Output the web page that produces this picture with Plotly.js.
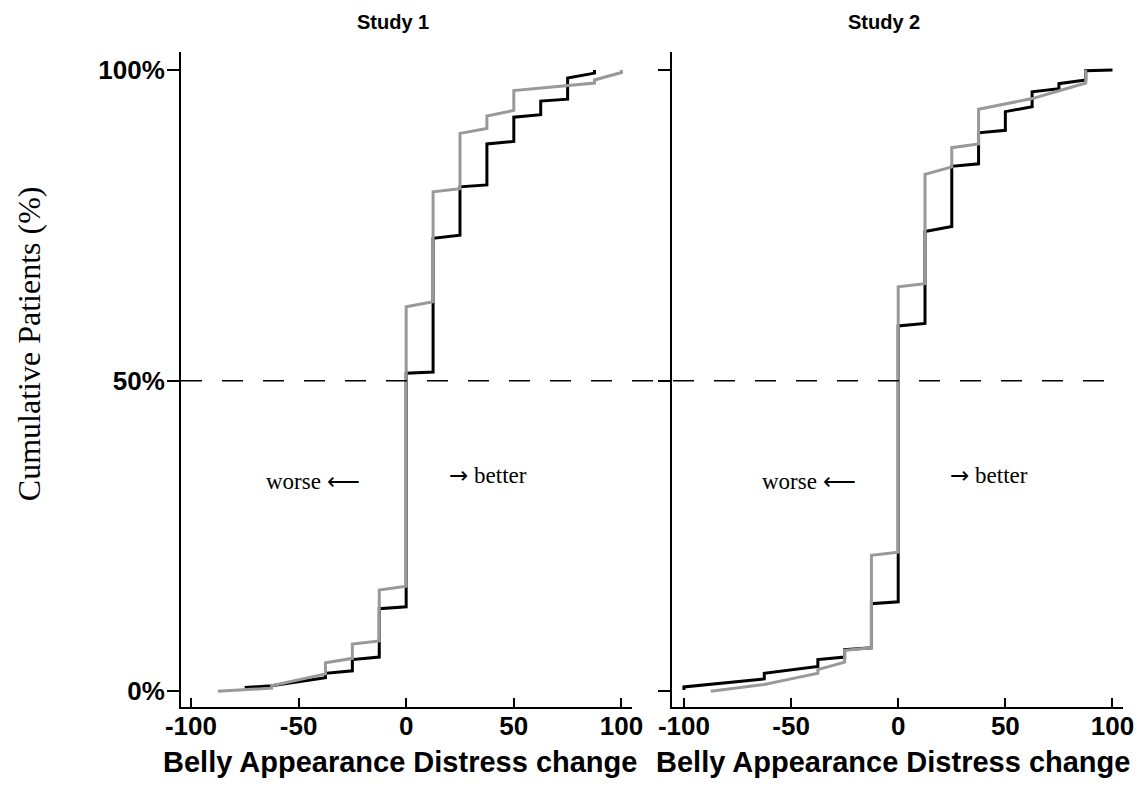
<!DOCTYPE html>
<html>
<head>
<meta charset="utf-8">
<script src="https://cdn.plot.ly/plotly-3.0.1.min.js"></script>
<style>html,body{margin:0;padding:0;background:#fff;}#chart{width:1140px;height:792px;}</style>
</head>
<body>
<div id="chart"></div>
<script>
// ---- data ----
const panelTitles = ["Study 1", "Study 2"];
const xTickVals = [-100, -50, 0, 50, 100];
const xTickText = ["-100", "-50", "0", "50", "100"];
const yTickVals = [0, 50, 100];
const yTickText = ["0%", "50%", "100%"];
const xAxisTitle = "Belly Appearance Distress change";
const yAxisTitle = "Cumulative Patients (%)";
const refLine = 50;

// Study 1, black curve
const s1BlackX = [-75, -62.5, -37.5, -37.5, -25, -25, -12.5, -12.5, 0, 0, 12.5, 12.5, 25, 25, 37.5, 37.5, 50, 50, 62.5, 62.5, 75, 75, 87.5, 87.5];
const s1BlackY = [0.6, 0.9, 2.2, 2.9, 3.3, 5.1, 5.5, 13.3, 13.6, 51.2, 51.4, 72.9, 73.4, 81.2, 81.5, 88.1, 88.5, 92.4, 92.8, 95.0, 95.3, 98.7, 99.5, 100];
// Study 1, gray curve
const s1GrayX = [-87.5, -62.5, -62.5, -37.5, -37.5, -25, -25, -12.5, -12.5, 0, 0, 12.5, 12.5, 25, 25, 37.5, 37.5, 50, 50, 87.5, 87.5, 100, 100];
const s1GrayY = [0, 0.5, 0.9, 2.8, 4.6, 5.3, 7.6, 8.1, 16.3, 16.9, 61.9, 62.7, 80.4, 80.9, 89.8, 90.6, 92.6, 93.5, 96.7, 97.9, 98.4, 99.6, 100];
// Study 2, black curve
const s2BlackX = [-100, -100, -62.5, -62.5, -37.5, -37.5, -25, -25, -12.5, -12.5, 0, 0, 12.5, 12.5, 25, 25, 37.5, 37.5, 50, 50, 62.5, 62.5, 75, 75, 87.5, 87.5, 100];
const s2BlackY = [0.2, 0.7, 2.0, 2.9, 4.0, 5.1, 5.5, 6.7, 7.0, 14.1, 14.4, 58.8, 59.2, 74.0, 74.8, 84.5, 84.9, 89.9, 90.3, 93.3, 94.1, 96.5, 97.0, 97.8, 98.4, 99.9, 100];
// Study 2, gray curve
const s2GrayX = [-87.5, -75, -62.5, -50, -37.5, -37.5, -25, -25, -12.5, -12.5, 0, 0, 12.5, 12.5, 25, 25, 37.5, 37.5, 50, 62.5, 87.5, 87.5];
const s2GrayY = [0, 0.5, 1.1, 2.0, 2.9, 3.5, 4.7, 6.6, 7.0, 21.9, 22.4, 65.1, 65.6, 83.2, 84.4, 87.5, 88.1, 93.7, 94.6, 95.4, 97.9, 100];

// ---- worse / better labels ----
const worseWord = "worse", betterWord = "better";
const leftArrow = "\u27F5", rightArrow = "\u2192";
const worseText = worseWord + " " + leftArrow;
const betterText = '<span style="font-family:DejaVu Sans">' + rightArrow + '</span> ' + betterWord;

const BLACK = "#000000", GRAY = "#999999";
function tr(x, y, color, xa, ya) {
  return {x: x, y: y, type: "scatter", mode: "lines", xaxis: xa, yaxis: ya,
          line: {color: color, width: 3}, hoverinfo: "skip", showlegend: false};
}
const data = [
  tr(s1BlackX, s1BlackY, BLACK, "x", "y"),
  tr(s1GrayX, s1GrayY, GRAY, "x", "y"),
  tr(s2BlackX, s2BlackY, BLACK, "x2", "y2"),
  tr(s2GrayX, s2GrayY, GRAY, "x2", "y2")
];

const tickFont = {family: "Liberation Sans, Arial, sans-serif", size: 26, color: "#000", weight: "bold"};
function xax(domain, range, anchor) {
  return {domain: domain, range: range, anchor: anchor, tickmode: "array",
          tickvals: xTickVals, ticktext: xTickText, ticks: "inside", ticklen: 9, tickwidth: 2,
          tickcolor: "#000", showline: true, linewidth: 2, linecolor: "#000",
          showgrid: false, zeroline: false, tickfont: tickFont, ticklabelstandoff: -5, fixedrange: true};
}
function yax(anchor, labels) {
  return {domain: [0, 1], range: [-2.53, 102.9], anchor: anchor, tickmode: "array",
          tickvals: yTickVals, ticktext: yTickText, ticks: "outside", ticklen: 12, tickwidth: 2,
          tickcolor: "#000", showline: true, linewidth: 2, linecolor: "#000",
          showgrid: false, zeroline: false, showticklabels: labels, tickfont: tickFont,
          ticklabelstandoff: -3, fixedrange: true};
}

const serif = "Liberation Serif, Times New Roman, serif";
const boldSans = "Liberation Sans, Arial, sans-serif";
const layout = {
  width: 1140, height: 792,
  margin: {l: 181, r: 17, t: 52, b: 85, pad: 0},
  paper_bgcolor: "#fff", plot_bgcolor: "#fff",
  showlegend: false,
  xaxis: xax([0, 0.4783], [-104.6, 104.7], "y"),
  xaxis2: xax([0.5216, 1], [-105.4, 104.9], "y2"),
  yaxis: yax("x", true),
  yaxis2: yax("x2", false),
  shapes: [{type: "line", xref: "paper", yref: "y", x0: 0, x1: 1, y0: refLine, y1: refLine,
            line: {color: "#000", width: 1.5, dash: "21px,20px"}}],
  annotations: [
    {text: panelTitles[0], xref: "paper", yref: "paper", x: 0.225, y: 1.0458, showarrow: false,
     xanchor: "center", yanchor: "middle", font: {family: boldSans, size: 20, weight: "bold", color: "#000"}},
    {text: panelTitles[1], xref: "paper", yref: "paper", x: 0.746, y: 1.0458, showarrow: false,
     xanchor: "center", yanchor: "middle", font: {family: boldSans, size: 20, weight: "bold", color: "#000"}},
    {text: xAxisTitle, xref: "paper", yref: "paper", x: (400 - 181) / 942, y: -0.0845, showarrow: false,
     xanchor: "center", yanchor: "middle", font: {family: boldSans, size: 29, weight: "bold", color: "#000"}},
    {text: xAxisTitle, xref: "paper", yref: "paper", x: (893 - 181) / 942, y: -0.0845, showarrow: false,
     xanchor: "center", yanchor: "middle", font: {family: boldSans, size: 29, weight: "bold", color: "#000"}},
    {text: yAxisTitle, xref: "paper", yref: "paper", x: (29 - 181) / 942, y: (706.7 - 344) / 654.7, showarrow: false,
     textangle: -90, xanchor: "center", yanchor: "middle", font: {family: serif, size: 32, color: "#000"}},
    {text: worseText, xref: "x", yref: "y", x: -20.6, y: 33.8, showarrow: false,
     xanchor: "right", yanchor: "middle", font: {family: serif, size: 23, color: "#000"}},
    {text: betterText, xref: "x", yref: "y", x: 18.9, y: 34.8, showarrow: false,
     xanchor: "left", yanchor: "middle", font: {family: serif, size: 23, color: "#000"}},
    {text: worseText, xref: "x2", yref: "y2", x: -18.9, y: 33.8, showarrow: false,
     xanchor: "right", yanchor: "middle", font: {family: serif, size: 23, color: "#000"}},
    {text: betterText, xref: "x2", yref: "y2", x: 23.1, y: 34.8, showarrow: false,
     xanchor: "left", yanchor: "middle", font: {family: serif, size: 23, color: "#000"}}
  ]
};

Plotly.newPlot("chart", data, layout, {displayModeBar: false, staticPlot: true});
</script>
</body>
</html>
